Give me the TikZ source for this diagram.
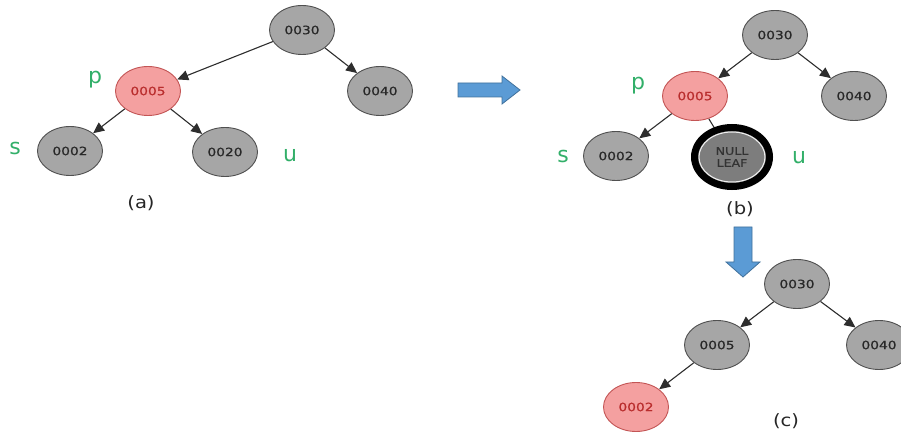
\documentclass[tikz,border=0pt]{standalone}
\usepackage{fontspec}
\setmainfont{DejaVu Sans}
\newfontfamily\nodefont[FakeStretch=1.2,FakeBold=0.6]{DejaVu Sans}
\newfontfamily\capfont[FakeStretch=1.15]{DejaVu Sans}
\usetikzlibrary{shapes.geometric,arrows.meta}
\definecolor{gfill}{RGB}{166,166,166}
\definecolor{gline}{RGB}{80,80,80}
\definecolor{gtext}{RGB}{40,40,40}
\definecolor{rfill}{RGB}{244,160,160}
\definecolor{rline}{RGB}{195,85,85}
\definecolor{rtext}{RGB}{185,45,45}
\definecolor{lgreen}{RGB}{50,175,105}
\definecolor{bfill}{RGB}{91,155,213}
\definecolor{bline}{RGB}{65,113,156}
\definecolor{nfill}{RGB}{125,125,125}
\definecolor{eline}{RGB}{45,45,45}
\pgfdeclarelayer{bg}
\pgfsetlayers{bg,main}
\tikzset{
  tnode/.style={ellipse, inner sep=0pt, minimum width=65pt, minimum height=49pt, line width=0.9pt, font=\nodefont\fontsize{11.5}{12}\selectfont},
  gnode/.style={tnode, fill=gfill, draw=gline, text=gtext},
  rnode/.style={tnode, fill=rfill, draw=rline, text=rtext},
  lbl/.style={text=lgreen, font=\fontsize{22}{24}\selectfont, inner sep=0pt},
  capstyle/.style={font=\capfont\fontsize{17}{19}\selectfont, inner sep=0pt, text=black!85},
  edge/.style={draw=eline, line width=1.1pt, -{Triangle[length=11pt,width=10pt]}},
  barrow/.style={fill=bfill, draw=bline, line width=0.8pt, line join=miter}
}
\begin{document}
\begin{tikzpicture}[x=1pt,y=-1pt]
\useasboundingbox (0,0) rectangle (901,435);
% ---------- tree (a)
\node[gnode] (a30) at (302,30) {0030};
\node[rnode] (a05) at (148,91) {0005};
\node[gnode] (a40) at (380,91) {0040};
\node[gnode] (a02) at (70,151) {0002};
\node[gnode] (a20) at (225,152) {0020};
\draw[edge] (a30) -- (a05);
\draw[edge] (a30) -- (a40);
\draw[edge] (a05) -- (a02);
\draw[edge] (a05) -- (a20);
\node[lbl] (ap) at (95,80) {p};
\node[lbl] (as) at (15,148) {s};
\node[lbl] (au) at (290,155) {u};
\node[capstyle] (acap) at (141,203) {(a)};
% ---------- right arrow
\draw[barrow] (458,83) -- (502,83) -- (502,76) -- (520,90) -- (502,104) -- (502,97) -- (458,97) -- cycle;
% ---------- tree (b)
\node[gnode] (b30) at (775,35) {0030};
\node[rnode] (b05) at (695,96) {0005};
\node[gnode] (b40) at (854,96) {0040};
\node[gnode] (b02) at (616,156) {0002};
\node[ellipse, inner sep=0pt, minimum width=75pt, minimum height=59pt, draw=black, line width=7pt, fill=nfill] (bnl) at (732,157) {};
\node[ellipse, inner sep=0pt, minimum width=66pt, minimum height=50pt, draw=white!88!gray, line width=1pt, fill=nfill, text=black!80, align=center, font=\nodefont\fontsize{10.5}{12}\selectfont] (bnt) at (bnl) {NULL\\LEAF};
\draw[edge] (b30) -- (b05);
\draw[edge] (b30) -- (b40);
\draw[edge] (b05) -- (b02);
\begin{pgfonlayer}{bg}
\draw[draw=eline, line width=1.1pt] (b05) -- (bnl.center);
\end{pgfonlayer}
\node[lbl] (bp) at (638,86) {p};
\node[lbl] (bs) at (563,156) {s};
\node[lbl] (bu) at (799,157) {u};
\node[capstyle] (bcap) at (740,209) {(b)};
% ---------- down arrow
\draw[barrow] (734,227) -- (752,227) -- (752,262) -- (760,262) -- (743,277) -- (726,262) -- (734,262) -- cycle;
% ---------- tree (c)
\node[gnode] (c30) at (797,284) {0030};
\node[gnode] (c05) at (717,345) {0005};
\node[gnode] (c40) at (879,345) {0040};
\node[rnode] (c02) at (636,407) {0002};
\draw[edge] (c30) -- (c05);
\draw[edge] (c30) -- (c40);
\draw[edge] (c05) -- (c02);
\node[capstyle] (ccap) at (786,421) {(c)};
\end{tikzpicture}
\end{document}
